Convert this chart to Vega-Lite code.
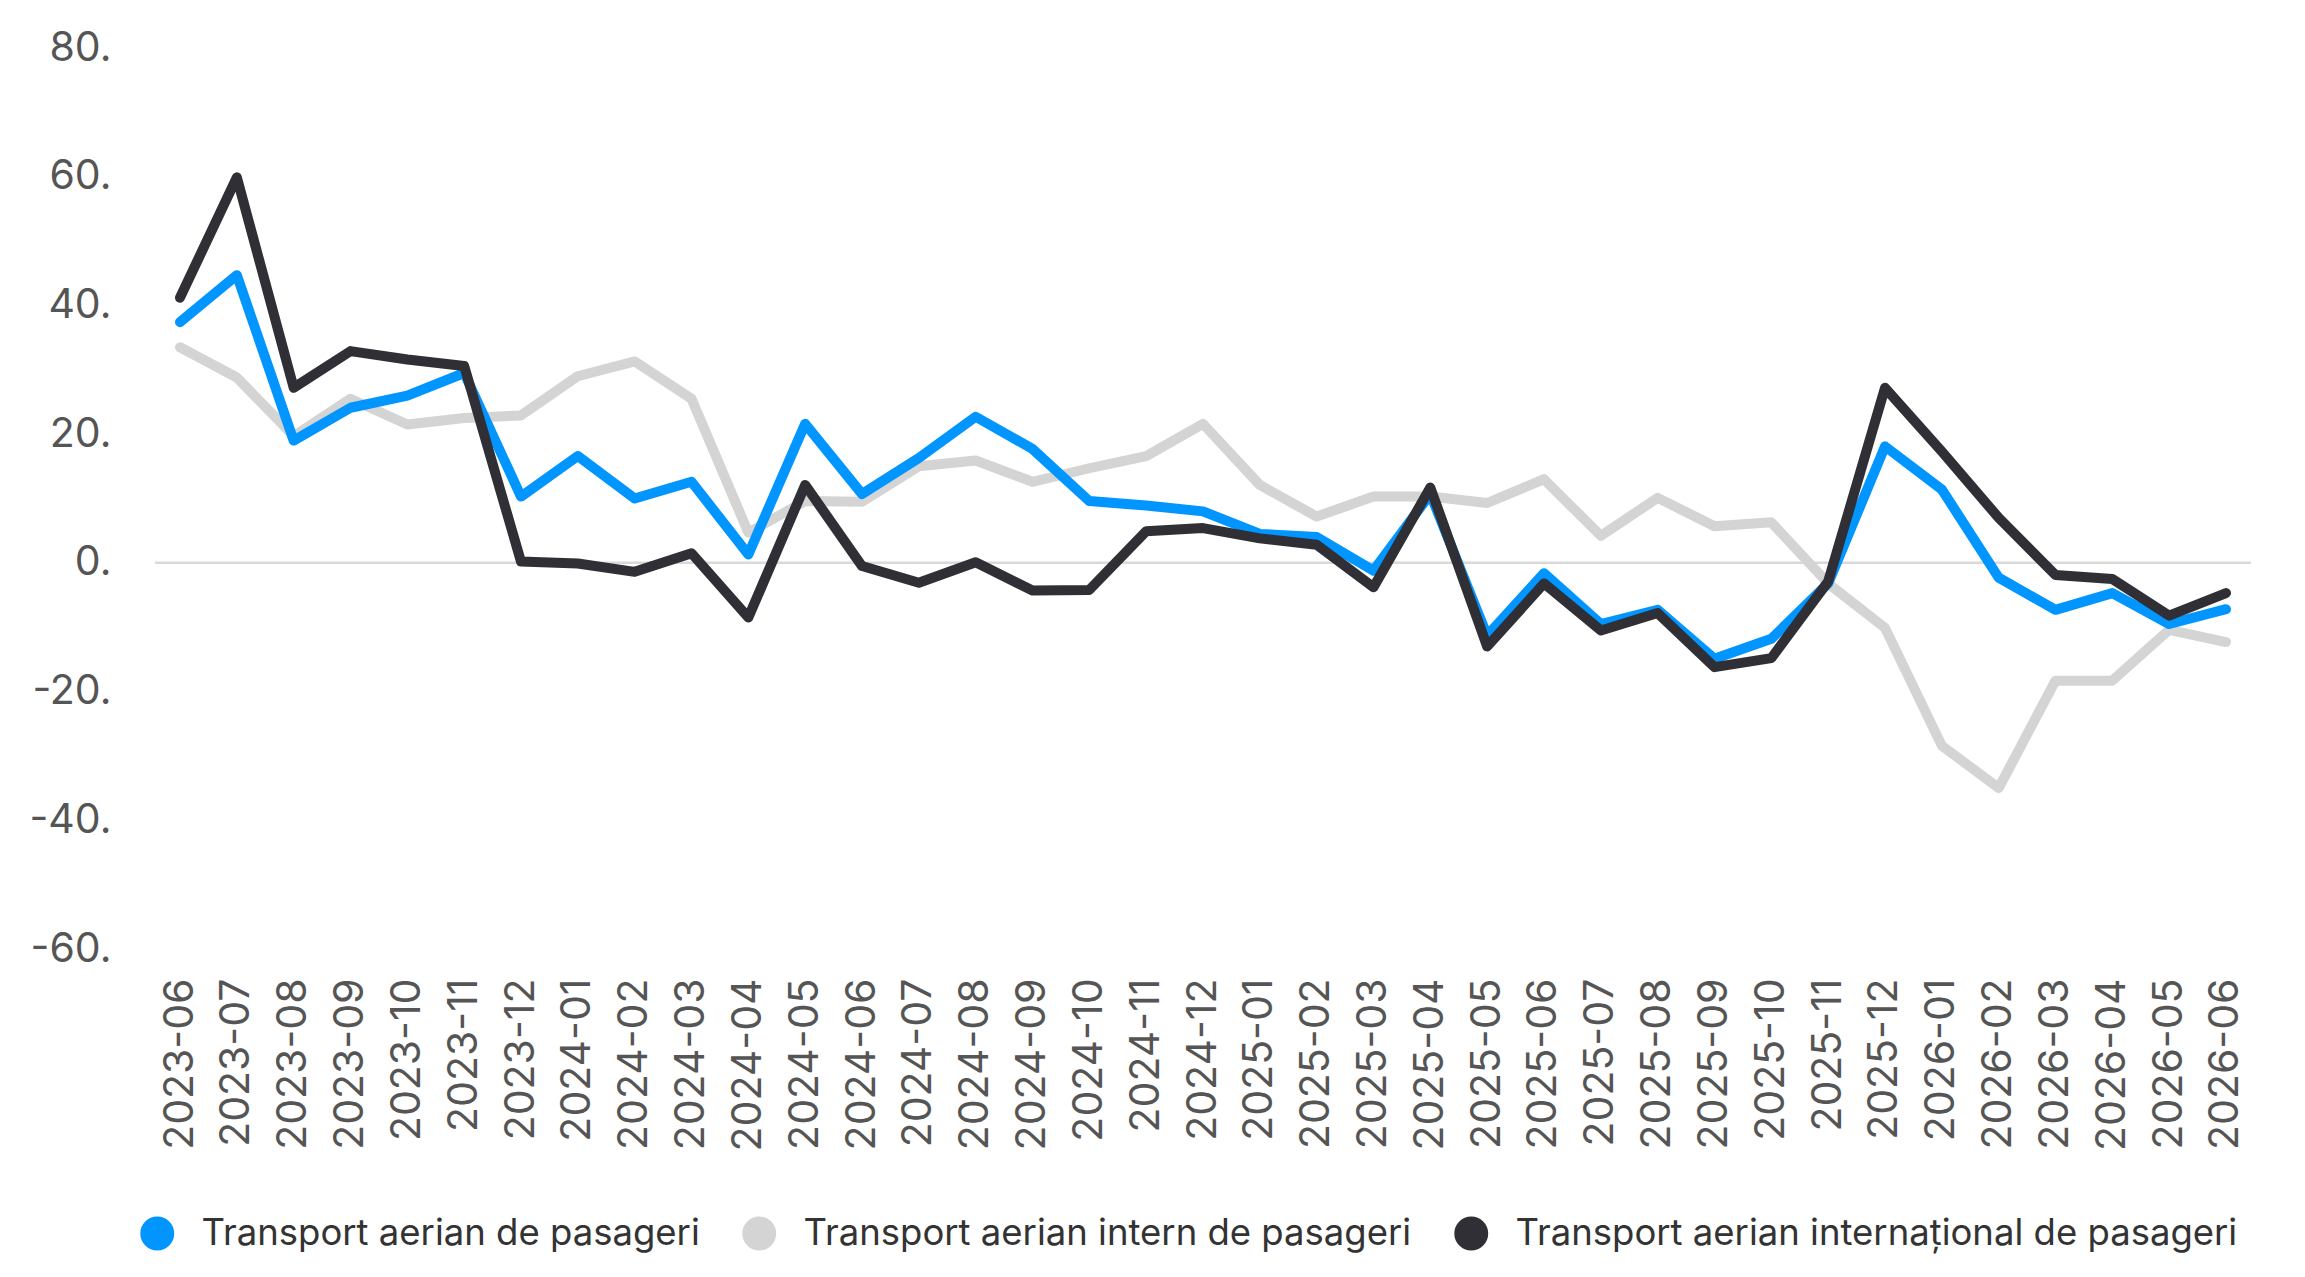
{
  "$schema": "https://vega.github.io/schema/vega-lite/v6.json",
  "width": 2096,
  "height": 901,
  "padding": {"left": 29, "top": 27, "right": 30, "bottom": 10},
  "config": {
    "font": "Inter",
    "view": {"stroke": null},
    "axis": {"grid": false, "domain": false, "ticks": false, "labelColor": "#555555", "labelFontSize": 41, "title": null},
    "legend": {"labelFontSize": 36.5, "labelColor": "#333333", "title": null, "labelLimit": 0}
  },
  "data": {
    "values": [
      {"luna": "2023-06", "serie": "Transport aerian intern de pasageri", "valoare": 33.5},
      {"luna": "2023-07", "serie": "Transport aerian intern de pasageri", "valoare": 28.8},
      {"luna": "2023-08", "serie": "Transport aerian intern de pasageri", "valoare": 19.7},
      {"luna": "2023-09", "serie": "Transport aerian intern de pasageri", "valoare": 25.5},
      {"luna": "2023-10", "serie": "Transport aerian intern de pasageri", "valoare": 21.5},
      {"luna": "2023-11", "serie": "Transport aerian intern de pasageri", "valoare": 22.5},
      {"luna": "2023-12", "serie": "Transport aerian intern de pasageri", "valoare": 22.9},
      {"luna": "2024-01", "serie": "Transport aerian intern de pasageri", "valoare": 29.0},
      {"luna": "2024-02", "serie": "Transport aerian intern de pasageri", "valoare": 31.3},
      {"luna": "2024-03", "serie": "Transport aerian intern de pasageri", "valoare": 25.5},
      {"luna": "2024-04", "serie": "Transport aerian intern de pasageri", "valoare": 4.7},
      {"luna": "2024-05", "serie": "Transport aerian intern de pasageri", "valoare": 9.6},
      {"luna": "2024-06", "serie": "Transport aerian intern de pasageri", "valoare": 9.5},
      {"luna": "2024-07", "serie": "Transport aerian intern de pasageri", "valoare": 15.0},
      {"luna": "2024-08", "serie": "Transport aerian intern de pasageri", "valoare": 15.9},
      {"luna": "2024-09", "serie": "Transport aerian intern de pasageri", "valoare": 12.6},
      {"luna": "2024-10", "serie": "Transport aerian intern de pasageri", "valoare": 14.7},
      {"luna": "2024-11", "serie": "Transport aerian intern de pasageri", "valoare": 16.6},
      {"luna": "2024-12", "serie": "Transport aerian intern de pasageri", "valoare": 21.6},
      {"luna": "2025-01", "serie": "Transport aerian intern de pasageri", "valoare": 12.1},
      {"luna": "2025-02", "serie": "Transport aerian intern de pasageri", "valoare": 7.2},
      {"luna": "2025-03", "serie": "Transport aerian intern de pasageri", "valoare": 10.3},
      {"luna": "2025-04", "serie": "Transport aerian intern de pasageri", "valoare": 10.3},
      {"luna": "2025-05", "serie": "Transport aerian intern de pasageri", "valoare": 9.3},
      {"luna": "2025-06", "serie": "Transport aerian intern de pasageri", "valoare": 13.0},
      {"luna": "2025-07", "serie": "Transport aerian intern de pasageri", "valoare": 4.2},
      {"luna": "2025-08", "serie": "Transport aerian intern de pasageri", "valoare": 10.1},
      {"luna": "2025-09", "serie": "Transport aerian intern de pasageri", "valoare": 5.7},
      {"luna": "2025-10", "serie": "Transport aerian intern de pasageri", "valoare": 6.3},
      {"luna": "2025-11", "serie": "Transport aerian intern de pasageri", "valoare": -3.2},
      {"luna": "2025-12", "serie": "Transport aerian intern de pasageri", "valoare": -10.1},
      {"luna": "2026-01", "serie": "Transport aerian intern de pasageri", "valoare": -28.4},
      {"luna": "2026-02", "serie": "Transport aerian intern de pasageri", "valoare": -35.0},
      {"luna": "2026-03", "serie": "Transport aerian intern de pasageri", "valoare": -18.3},
      {"luna": "2026-04", "serie": "Transport aerian intern de pasageri", "valoare": -18.3},
      {"luna": "2026-05", "serie": "Transport aerian intern de pasageri", "valoare": -10.4},
      {"luna": "2026-06", "serie": "Transport aerian intern de pasageri", "valoare": -12.3},
      {"luna": "2023-06", "serie": "Transport aerian de pasageri", "valoare": 37.4},
      {"luna": "2023-07", "serie": "Transport aerian de pasageri", "valoare": 44.7},
      {"luna": "2023-08", "serie": "Transport aerian de pasageri", "valoare": 19.0},
      {"luna": "2023-09", "serie": "Transport aerian de pasageri", "valoare": 24.1},
      {"luna": "2023-10", "serie": "Transport aerian de pasageri", "valoare": 26.0},
      {"luna": "2023-11", "serie": "Transport aerian de pasageri", "valoare": 29.5},
      {"luna": "2023-12", "serie": "Transport aerian de pasageri", "valoare": 10.3},
      {"luna": "2024-01", "serie": "Transport aerian de pasageri", "valoare": 16.6},
      {"luna": "2024-02", "serie": "Transport aerian de pasageri", "valoare": 10.0},
      {"luna": "2024-03", "serie": "Transport aerian de pasageri", "valoare": 12.6},
      {"luna": "2024-04", "serie": "Transport aerian de pasageri", "valoare": 1.3},
      {"luna": "2024-05", "serie": "Transport aerian de pasageri", "valoare": 21.6},
      {"luna": "2024-06", "serie": "Transport aerian de pasageri", "valoare": 10.7},
      {"luna": "2024-07", "serie": "Transport aerian de pasageri", "valoare": 16.3},
      {"luna": "2024-08", "serie": "Transport aerian de pasageri", "valoare": 22.7},
      {"luna": "2024-09", "serie": "Transport aerian de pasageri", "valoare": 17.7},
      {"luna": "2024-10", "serie": "Transport aerian de pasageri", "valoare": 9.6},
      {"luna": "2024-11", "serie": "Transport aerian de pasageri", "valoare": 8.9},
      {"luna": "2024-12", "serie": "Transport aerian de pasageri", "valoare": 8.0},
      {"luna": "2025-01", "serie": "Transport aerian de pasageri", "valoare": 4.5},
      {"luna": "2025-02", "serie": "Transport aerian de pasageri", "valoare": 4.0},
      {"luna": "2025-03", "serie": "Transport aerian de pasageri", "valoare": -1.2},
      {"luna": "2025-04", "serie": "Transport aerian de pasageri", "valoare": 10.7},
      {"luna": "2025-05", "serie": "Transport aerian de pasageri", "valoare": -11.3},
      {"luna": "2025-06", "serie": "Transport aerian de pasageri", "valoare": -1.6},
      {"luna": "2025-07", "serie": "Transport aerian de pasageri", "valoare": -9.5},
      {"luna": "2025-08", "serie": "Transport aerian de pasageri", "valoare": -7.3},
      {"luna": "2025-09", "serie": "Transport aerian de pasageri", "valoare": -14.9},
      {"luna": "2025-10", "serie": "Transport aerian de pasageri", "valoare": -11.8},
      {"luna": "2025-11", "serie": "Transport aerian de pasageri", "valoare": -3.2},
      {"luna": "2025-12", "serie": "Transport aerian de pasageri", "valoare": 18.1},
      {"luna": "2026-01", "serie": "Transport aerian de pasageri", "valoare": 11.4},
      {"luna": "2026-02", "serie": "Transport aerian de pasageri", "valoare": -2.3},
      {"luna": "2026-03", "serie": "Transport aerian de pasageri", "valoare": -7.3},
      {"luna": "2026-04", "serie": "Transport aerian de pasageri", "valoare": -4.7},
      {"luna": "2026-05", "serie": "Transport aerian de pasageri", "valoare": -9.5},
      {"luna": "2026-06", "serie": "Transport aerian de pasageri", "valoare": -7.2},
      {"luna": "2023-06", "serie": "Transport aerian internațional de pasageri", "valoare": 41.2},
      {"luna": "2023-07", "serie": "Transport aerian internațional de pasageri", "valoare": 59.9},
      {"luna": "2023-08", "serie": "Transport aerian internațional de pasageri", "valoare": 27.2},
      {"luna": "2023-09", "serie": "Transport aerian internațional de pasageri", "valoare": 32.9},
      {"luna": "2023-10", "serie": "Transport aerian internațional de pasageri", "valoare": 31.6},
      {"luna": "2023-11", "serie": "Transport aerian internațional de pasageri", "valoare": 30.6},
      {"luna": "2023-12", "serie": "Transport aerian internațional de pasageri", "valoare": 0.2},
      {"luna": "2024-01", "serie": "Transport aerian internațional de pasageri", "valoare": -0.1},
      {"luna": "2024-02", "serie": "Transport aerian internațional de pasageri", "valoare": -1.4},
      {"luna": "2024-03", "serie": "Transport aerian internațional de pasageri", "valoare": 1.5},
      {"luna": "2024-04", "serie": "Transport aerian internațional de pasageri", "valoare": -8.5},
      {"luna": "2024-05", "serie": "Transport aerian internațional de pasageri", "valoare": 12.1},
      {"luna": "2024-06", "serie": "Transport aerian internațional de pasageri", "valoare": -0.5},
      {"luna": "2024-07", "serie": "Transport aerian internațional de pasageri", "valoare": -3.1},
      {"luna": "2024-08", "serie": "Transport aerian internațional de pasageri", "valoare": 0.1},
      {"luna": "2024-09", "serie": "Transport aerian internațional de pasageri", "valoare": -4.3},
      {"luna": "2024-10", "serie": "Transport aerian internațional de pasageri", "valoare": -4.2},
      {"luna": "2024-11", "serie": "Transport aerian internațional de pasageri", "valoare": 4.9},
      {"luna": "2024-12", "serie": "Transport aerian internațional de pasageri", "valoare": 5.4},
      {"luna": "2025-01", "serie": "Transport aerian internațional de pasageri", "valoare": 3.8},
      {"luna": "2025-02", "serie": "Transport aerian internațional de pasageri", "valoare": 2.8},
      {"luna": "2025-03", "serie": "Transport aerian internațional de pasageri", "valoare": -3.8},
      {"luna": "2025-04", "serie": "Transport aerian internațional de pasageri", "valoare": 11.7},
      {"luna": "2025-05", "serie": "Transport aerian internațional de pasageri", "valoare": -13.0},
      {"luna": "2025-06", "serie": "Transport aerian internațional de pasageri", "valoare": -3.2},
      {"luna": "2025-07", "serie": "Transport aerian internațional de pasageri", "valoare": -10.5},
      {"luna": "2025-08", "serie": "Transport aerian internațional de pasageri", "valoare": -7.8},
      {"luna": "2025-09", "serie": "Transport aerian internațional de pasageri", "valoare": -16.2},
      {"luna": "2025-10", "serie": "Transport aerian internațional de pasageri", "valoare": -14.8},
      {"luna": "2025-11", "serie": "Transport aerian internațional de pasageri", "valoare": -2.9},
      {"luna": "2025-12", "serie": "Transport aerian internațional de pasageri", "valoare": 27.2},
      {"luna": "2026-01", "serie": "Transport aerian internațional de pasageri", "valoare": 17.3},
      {"luna": "2026-02", "serie": "Transport aerian internațional de pasageri", "valoare": 7.0},
      {"luna": "2026-03", "serie": "Transport aerian internațional de pasageri", "valoare": -1.9},
      {"luna": "2026-04", "serie": "Transport aerian internațional de pasageri", "valoare": -2.5},
      {"luna": "2026-05", "serie": "Transport aerian internațional de pasageri", "valoare": -8.2},
      {"luna": "2026-06", "serie": "Transport aerian internațional de pasageri", "valoare": -4.7}
    ]
  },
  "layer": [
    {
      "data": {"values": [{"zero": 0}]},
      "mark": {"type": "rule", "color": "#d9d9d9", "strokeWidth": 2.5},
      "encoding": {"y": {"field": "zero", "type": "quantitative"}}
    },
    {
      "mark": {"type": "line", "strokeWidth": 10, "strokeCap": "round", "strokeJoin": "round"},
      "encoding": {
        "x": {
          "field": "luna",
          "type": "ordinal",
          "scale": {"padding": 0.44},
          "axis": {"labelAngle": -90, "labelPadding": 29}
        },
        "y": {
          "field": "valoare",
          "type": "quantitative",
          "scale": {"domain": [-60, 80], "nice": false},
          "axis": {"values": [-60, -40, -20, 0, 20, 40, 60, 80], "labelExpr": "datum.value + '.'", "labelPadding": 44}
        },
        "color": {
          "field": "serie",
          "type": "nominal",
          "scale": {
            "domain": ["Transport aerian de pasageri", "Transport aerian intern de pasageri", "Transport aerian internațional de pasageri"],
            "range": ["#0095ff", "#d4d4d4", "#2f2f35"]
          },
          "legend": {
            "orient": "none",
            "legendX": -16,
            "legendY": 1167,
            "direction": "horizontal",
            "symbolType": "circle",
            "symbolSize": 1050,
            "columnPadding": 40,
            "labelOffset": 26,
            "encode": {
              "symbols": {
                "update": {
                  "fill": {"scale": "color", "field": "value"},
                  "stroke": {"value": "transparent"},
                  "opacity": {"value": 1}
                }
              }
            }
          }
        }
      }
    }
  ]
}
